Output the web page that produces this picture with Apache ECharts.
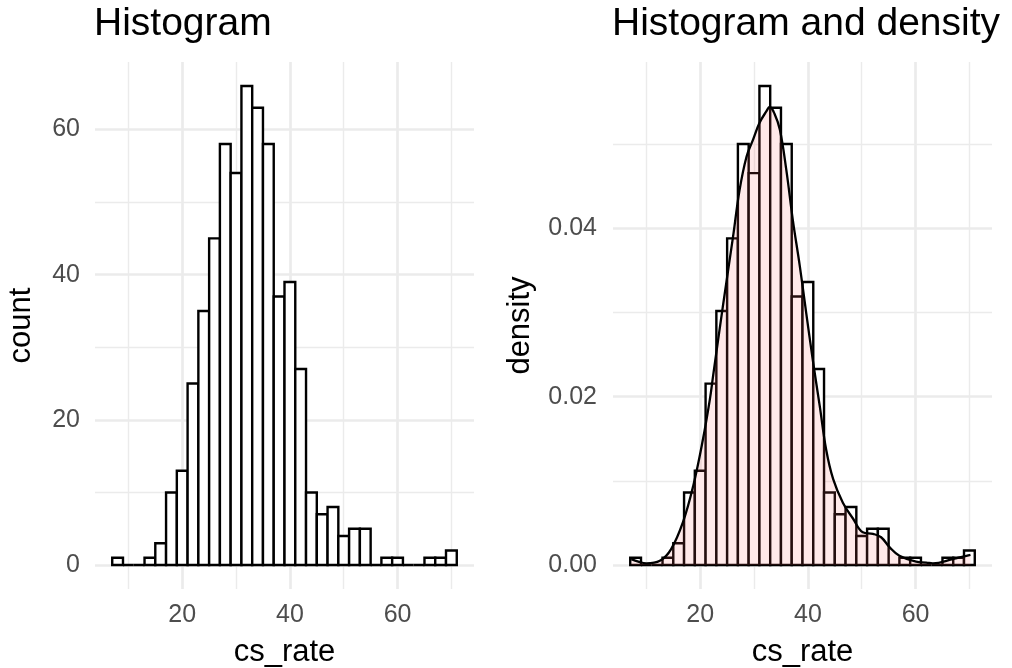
<!DOCTYPE html>
<html>
<head>
<meta charset="utf-8">
<script src="https://cdn.jsdelivr.net/npm/echarts@6/dist/echarts.min.js"></script>
<style>
  html, body { margin: 0; padding: 0; background: #fff; }
  #chart { width: 1012px; height: 668px; }
</style>
</head>
<body>
<div id="chart"></div>
<script>
// histogram bins (binwidth 2), left edges
const binLeft = [7, 9, 11, 13, 15, 17, 19, 21, 23, 25, 27, 29, 31, 33, 35, 37,
  39, 41, 43, 45, 47, 49, 51, 53, 55, 57, 59, 61, 63, 65, 67, 69]
const binWidth = 2
const counts = [1, 0, 0, 1, 3, 10, 13, 25, 35, 45, 58, 54, 66, 63, 58, 37,
  39, 27, 10, 7, 8, 4, 5, 5, 0, 1, 1, 0, 0, 1, 1, 2]

// kernel density curve
const densX = [7.2, 8.5, 10.0, 12.5, 14.6, 16.8, 18.7, 20.5, 21.8, 22.4, 24.2, 26.1, 27.3, 28.6,
  29.8, 31.0, 32.3, 32.9, 33.8, 34.8, 36.0, 37.2, 38.5, 39.7, 40.9, 42.2, 43.4, 44.7,
  46.5, 48.4, 50.2, 52.1, 53.6, 55.2, 57.0, 60.1, 62.0, 63.2, 66.9, 68.2, 70.2]
const densY = [0.0007, 0.0004, 0.0002, 0.0005, 0.0019, 0.0051, 0.0094, 0.0149, 0.0197, 0.0225, 0.0307, 0.0390, 0.0445, 0.0485,
  0.0505, 0.0525, 0.0539, 0.0544, 0.0536, 0.0517, 0.0469, 0.0410, 0.0355, 0.0299, 0.0244, 0.0189, 0.0137, 0.0102,
  0.0074, 0.0055, 0.0039, 0.0037, 0.0033, 0.0021, 0.0011, 0.0004, 0.0003, 0.0002, 0.0007, 0.0009, 0.0012]

const xTicks = [20, 40, 60]
const xMinor = [10, 30, 50, 70]
const countTicks = [0, 20, 40, 60]
const countMinor = [10, 30, 50]
const densTicks = [0, 0.02, 0.04]
const densMinor = [0.01, 0.03, 0.05]

const FONT = 'Liberation Sans, Arial, sans-serif'
const GRID_COLOR = '#EBEBEB'

const total = counts.reduce((a, b) => a + b, 0)
const countData = binLeft.map((x, i) => [x, x + binWidth, counts[i]])
const densBarData = binLeft.map((x, i) => [x, x + binWidth, counts[i] / (total * binWidth)])
const densLine = densX.map((x, i) => [x, densY[i]])

function renderBar(params, api) {
  const top = api.coord([api.value(0), api.value(2)])
  const base = api.coord([api.value(1), 0])
  return {
    type: 'rect',
    shape: { x: top[0], y: top[1], width: base[0] - top[0], height: base[1] - top[1] },
    style: { fill: '#fff', stroke: '#000', lineWidth: 2.4 },
  }
}

function gridLines(xMaj, xMin, yMaj, yMin) {
  const major = { color: GRID_COLOR, width: 2.7, type: 'solid' }
  const minor = { color: GRID_COLOR, width: 1.4, type: 'solid' }
  return {
    silent: true,
    symbol: 'none',
    z: 1,
    animation: false,
    label: { show: false },
    emphasis: { disabled: true },
    data: [
      ...yMin.map((v) => ({ yAxis: v, lineStyle: minor })),
      ...xMin.map((v) => ({ xAxis: v, lineStyle: minor })),
      ...yMaj.map((v) => ({ yAxis: v, lineStyle: major })),
      ...xMaj.map((v) => ({ xAxis: v, lineStyle: major })),
    ],
  }
}

function xAxisOpt(idx) {
  return {
    gridIndex: idx,
    type: 'value',
    min: 3.8,
    max: 74.2,
    name: 'cs_rate',
    nameLocation: 'middle',
    nameGap: 48,
    nameTextStyle: { fontFamily: FONT, fontSize: 31, color: '#000' },
    axisLine: { show: false },
    axisTick: { show: false },
    splitLine: { show: false },
    axisLabel: {
      customValues: xTicks,
      margin: 14,
      fontFamily: FONT,
      fontSize: 25,
      color: '#4D4D4D',
    },
  }
}

const chart = echarts.init(document.getElementById('chart'))

chart.setOption({
  animation: false,
  backgroundColor: '#fff',
  title: [
    { text: 'Histogram', left: 94, top: 5, padding: 0,
      textStyle: { fontFamily: FONT, fontSize: 39, fontWeight: 'normal', color: '#000' } },
    { text: 'Histogram and density', left: 612, top: 5, padding: 0,
      textStyle: { fontFamily: FONT, fontSize: 39, fontWeight: 'normal', color: '#000' } },
  ],
  grid: [
    { left: 95, right: 538, top: 62, bottom: 79, outerBoundsMode: 'none', containLabel: false },
    { left: 613, right: 20, top: 62, bottom: 79, outerBoundsMode: 'none', containLabel: false },
  ],
  xAxis: [xAxisOpt(0), xAxisOpt(1)],
  yAxis: [
    {
      gridIndex: 0,
      type: 'value',
      min: -3.3,
      max: 69.3,
      name: 'count',
      nameLocation: 'middle',
      nameRotate: 90,
      nameGap: 58,
      nameTextStyle: { fontFamily: FONT, fontSize: 31, color: '#000' },
      axisLine: { show: false },
      axisTick: { show: false },
      splitLine: { show: false },
      axisLabel: { customValues: countTicks, margin: 15, fontFamily: FONT, fontSize: 25, color: '#4D4D4D' },
    },
    {
      gridIndex: 1,
      type: 'value',
      min: -0.002845,
      max: 0.059745,
      name: 'density',
      nameLocation: 'middle',
      nameRotate: 90,
      nameGap: 77,
      nameTextStyle: { fontFamily: FONT, fontSize: 31, color: '#000' },
      axisLine: { show: false },
      axisTick: { show: false },
      splitLine: { show: false },
      axisLabel: {
        customValues: densTicks,
        margin: 16,
        fontFamily: FONT,
        fontSize: 25,
        color: '#4D4D4D',
        formatter: (v) => v.toFixed(2),
      },
    },
  ],
  series: [
    {
      type: 'custom',
      xAxisIndex: 0,
      yAxisIndex: 0,
      renderItem: renderBar,
      data: countData,
      z: 2,
      markLine: gridLines(xTicks, xMinor, countTicks, countMinor),
    },
    {
      type: 'custom',
      xAxisIndex: 1,
      yAxisIndex: 1,
      renderItem: renderBar,
      data: densBarData,
      z: 2,
      markLine: gridLines(xTicks, xMinor, densTicks, densMinor),
    },
    {
      type: 'line',
      xAxisIndex: 1,
      yAxisIndex: 1,
      data: densLine,
      smooth: 0.4,
      showSymbol: false,
      z: 3,
      lineStyle: { color: '#000', width: 2.3 },
      areaStyle: { color: 'rgba(255, 102, 102, 0.2)', origin: 0 },
    },
  ],
})
</script>
</body>
</html>
